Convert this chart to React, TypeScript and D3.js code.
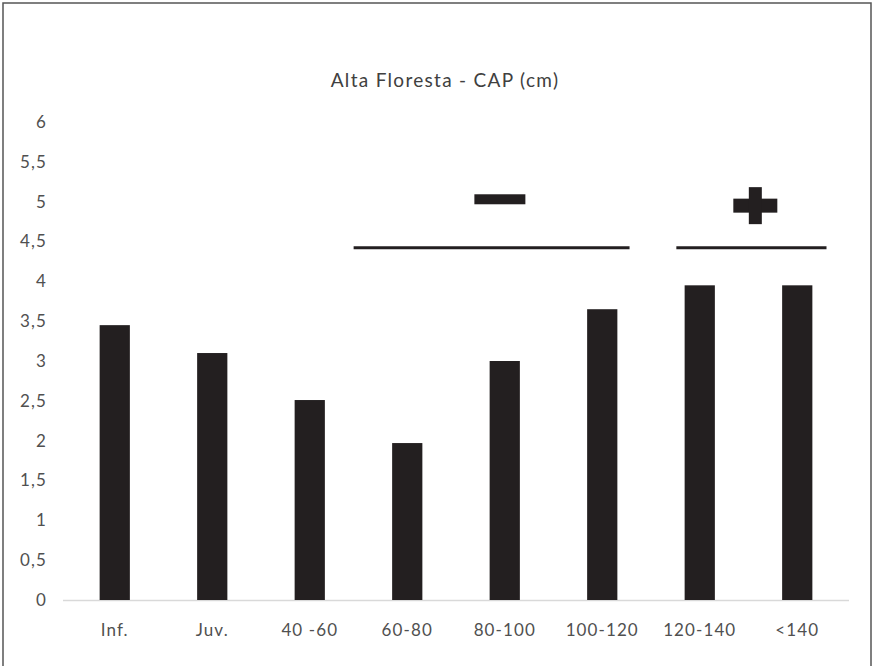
import React from "react";
import * as d3 from "d3";

const categories = ["Inf.", "Juv.", "40 -60", "60-80", "80-100", "100-120", "120-140", "<140"];
const values = [3.45, 3.1, 2.51, 1.97, 3.0, 3.65, 3.95, 3.95];
const yTicks = [0, 0.5, 1, 1.5, 2, 2.5, 3, 3.5, 4, 4.5, 5, 5.5, 6];
const title = "Alta Floresta - CAP (cm)";
// annotation brackets, positions in category-index and value units
const groupLines = [
  { from: 2.45, to: 5.28, y: 4.42, symbol: "minus", sx: 3.95, sy: 5.03 },
  { from: 5.76, to: 7.3, y: 4.42, symbol: "plus", sx: 6.57, sy: 4.95 },
];

const W = 876;
const H = 666;
const FONT = "Lato, 'Open Sans', sans-serif";

export default function App() {
  const x = d3.scaleBand<string>().domain(categories).range([66, 846]).paddingInner(0.69).paddingOuter(0.345);
  const y = d3.scaleLinear().domain([0, 6]).range([600, 122]);
  const step = x.step();
  const c0 = (x(categories[0]) as number) + x.bandwidth() / 2;
  const xi = d3.scaleLinear().domain([0, 1]).range([c0, c0 + step]);
  const fmt = (v: number) => String(v).replace(".", ",");
  const ink = "#231f20";

  return (
    <svg width={W} height={H} style={{ position: "absolute", left: 0, top: 0, background: "#fff" }}>
      <rect x={3} y={3} width={868} height={H + 10} fill="none" stroke="#555" strokeWidth={1.5} />
      <text x={445} y={80} dy="0.35em" textAnchor="middle" fontFamily={FONT} fontSize={19} letterSpacing={1.3} fill="#404040">
        {title}
      </text>
      {yTicks.map((t) => (
        <text key={t} x={47} y={y(t)} dy="0.35em" textAnchor="end" fontFamily={FONT} fontSize={17} letterSpacing={1.1} fill="#505050">
          {fmt(t)}
        </text>
      ))}
      <line x1={63} x2={849} y1={y(0) + 0.5} y2={y(0) + 0.5} stroke="#d9d9d9" strokeWidth={1.5} />
      {categories.map((c, i) => (
        <rect key={c} x={x(c)} y={y(values[i])} width={x.bandwidth()} height={y(0) - y(values[i])} fill={ink} />
      ))}
      {categories.map((c) => (
        <text key={c} x={(x(c) as number) + x.bandwidth() / 2} y={630} dy="0.35em" textAnchor="middle" fontFamily={FONT} fontSize={17} letterSpacing={1.1} fill="#505050">
          {c}
        </text>
      ))}
      {groupLines.map((g, i) => {
        const cx = xi(g.sx);
        const cy = y(g.sy);
        return (
          <g key={i}>
            <line x1={xi(g.from)} x2={xi(g.to)} y1={y(g.y)} y2={y(g.y)} stroke={ink} strokeWidth={3} />
            {g.symbol === "minus" ? (
              <rect x={cx - 25.5} y={cy - 5} width={51} height={10} fill={ink} />
            ) : (
              <g>
                <rect x={cx - 22} y={cy - 7} width={44} height={14} fill={ink} />
                <rect x={cx - 6.5} y={cy - 18.5} width={13} height={37} fill={ink} />
              </g>
            )}
          </g>
        );
      })}
    </svg>
  );
}
